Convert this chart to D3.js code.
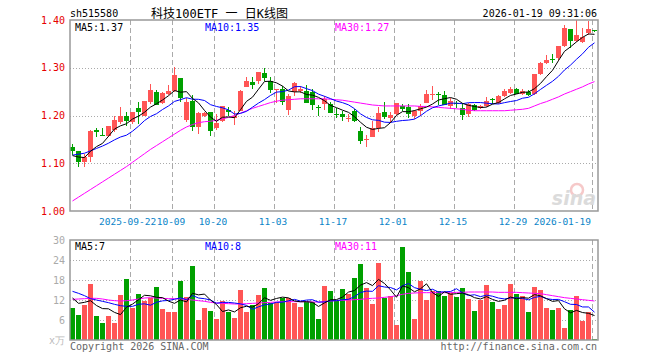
<!DOCTYPE html>
<html>
<head>
<meta charset="utf-8">
<script src="https://cdn.jsdelivr.net/npm/d3@7"></script>
<style>
body{margin:0;background:#fff;}
text{font-family:"DejaVu Sans Mono",monospace;font-size:10px;}
</style>
</head>
<body>
<svg id="kline" width="660" height="360"></svg>
<script>
// daily bars, 2025-09-08 .. 2026-01-19
var opens = [1.133,1.125,1.103,1.113,1.170,1.160,1.158,1.170,1.186,1.200,
    1.186,1.215,1.200,1.229,1.250,1.227,1.245,1.252,1.279,1.190,
    1.231,1.176,1.200,1.208,1.173,1.189,1.212,1.195,1.210,1.260,
    1.270,1.272,1.288,1.272,1.254,1.255,1.212,1.249,1.251,1.251,
    1.249,1.218,1.224,1.224,1.204,1.203,1.193,1.210,1.168,1.150,
    1.154,1.173,1.208,1.194,1.203,1.220,1.217,1.200,1.210,1.226,
    1.244,1.246,1.242,1.219,1.227,1.216,1.204,1.223,1.216,1.219,
    1.234,1.226,1.241,1.248,1.255,1.246,1.250,1.244,1.286,1.310,
    1.318,1.321,1.345,1.382,1.356,1.354,1.372,1.380];
var highs = [1.140,1.125,1.120,1.170,1.174,1.174,1.177,1.198,1.217,1.207,
    1.208,1.228,1.231,1.265,1.254,1.249,1.263,1.301,1.279,1.237,
    1.242,1.207,1.208,1.208,1.203,1.219,1.217,1.210,1.254,1.281,
    1.281,1.291,1.300,1.281,1.255,1.262,1.244,1.270,1.262,1.263,
    1.255,1.222,1.240,1.229,1.215,1.210,1.203,1.213,1.175,1.159,
    1.189,1.217,1.229,1.208,1.227,1.224,1.224,1.212,1.224,1.254,
    1.261,1.249,1.251,1.237,1.231,1.226,1.226,1.225,1.222,1.238,
    1.236,1.243,1.255,1.260,1.258,1.255,1.253,1.286,1.313,1.326,
    1.328,1.345,1.390,1.382,1.400,1.383,1.397,1.380];
var lows = [1.117,1.092,1.092,1.103,1.155,1.159,1.155,1.165,1.183,1.177,
    1.183,1.183,1.198,1.224,1.221,1.224,1.242,1.249,1.228,1.186,
    1.167,1.162,1.196,1.158,1.170,1.187,1.199,1.180,1.210,1.260,
    1.255,1.265,1.272,1.248,1.227,1.222,1.201,1.240,1.248,1.226,
    1.212,1.198,1.212,1.205,1.194,1.189,1.187,1.187,1.140,1.133,
    1.154,1.165,1.192,1.185,1.201,1.210,1.195,1.193,1.199,1.226,
    1.233,1.223,1.223,1.213,1.216,1.190,1.197,1.209,1.213,1.217,
    1.224,1.224,1.239,1.245,1.245,1.243,1.241,1.243,1.285,1.307,
    1.310,1.314,1.343,1.342,1.354,1.352,1.369,1.375];
var closes = [1.125,1.103,1.113,1.167,1.166,1.159,1.177,1.190,1.200,1.188,
    1.208,1.207,1.231,1.254,1.223,1.247,1.252,1.285,1.237,1.229,
    1.176,1.205,1.206,1.167,1.185,1.219,1.208,1.198,1.251,1.272,
    1.263,1.291,1.279,1.254,1.255,1.229,1.240,1.269,1.255,1.227,
    1.222,1.217,1.234,1.206,1.203,1.196,1.194,1.189,1.147,1.151,
    1.173,1.205,1.196,1.201,1.226,1.213,1.203,1.209,1.219,1.244,
    1.245,1.245,1.223,1.231,1.226,1.202,1.224,1.212,1.219,1.231,
    1.233,1.240,1.251,1.255,1.246,1.251,1.243,1.286,1.310,1.317,
    1.317,1.345,1.383,1.357,1.369,1.364,1.381,1.379];
// volume, 万
var volumes = [9.7,7.5,10.5,16.8,7.2,5.1,7.2,5.1,13.5,18.3,
    9.7,13.8,11.8,12.7,16,9.3,8.5,8.5,17.8,13,
    22.3,6.1,9.7,8.8,6.3,11.8,8.5,6.7,15.1,8.5,
    10.5,13.6,15.7,11.2,11.3,12.5,12.5,11,10,11.5,
    11.5,6.3,16.3,14.7,11.8,15.3,13.8,18.6,22.8,15.6,
    10.8,23.1,12.5,13.2,4.5,27.9,20.4,6.3,17.7,12,
    14.7,14.7,13.2,14,12.9,15.6,12.3,8.7,12,16.5,
    11.4,9.3,10.5,16.8,13.8,13.2,8.4,15.9,15,9.6,
    9,9.6,3.6,9,13.2,5.8,8.4,0.3];

// moving averages that reach back before the first bar
var priceMa5Head = [1.116,1.113,1.112,1.125];
var priceMa10Head = [1.117,1.119,1.121,1.126,1.131,1.136,1.142,1.149,1.155];
var priceMa30 = [1.021,1.029,1.037,1.045,1.053,1.061,1.069,1.077,1.085,1.093,
    1.102,1.111,1.120,1.129,1.137,1.145,1.153,1.161,1.169,1.176,
    1.181,1.185,1.187,1.188,1.190,1.193,1.196,1.200,1.205,1.210,
    1.215,1.219,1.223,1.227,1.230,1.232,1.233,1.234,1.235,1.235,
    1.235,1.235,1.235,1.234,1.233,1.232,1.230,1.228,1.226,1.224,
    1.222,1.221,1.220,1.220,1.220,1.220,1.220,1.220,1.219,1.219,
    1.218,1.217,1.216,1.215,1.214,1.213,1.211,1.210,1.210,1.210,
    1.210,1.210,1.210,1.211,1.212,1.213,1.215,1.220,1.225,1.229,
    1.234,1.239,1.245,1.250,1.255,1.260,1.266,1.271];
var volMa5Head = [12.6,11.0,11.3,11.8];
var volMa10Head = [14.6,14.0,13.3,12.4,12.0,11.6,11.2,10.7,10.3];
var volMa30 = [12.2,12.3,12.4,12.5,12.5,12.3,12.0,11.8,11.7,11.8,
    12.0,12.3,12.6,12.7,12.6,12.5,12.4,12.4,12.3,12.2,
    12.0,11.8,11.6,11.3,11.1,11.0,10.9,10.8,10.8,10.9,
    11.0,11.1,11.2,11.3,11.4,11.5,11.5,11.5,11.5,11.5,
    11.4,11.4,11.5,11.7,11.8,11.9,12.0,12.1,12.2,12.4,
    12.5,12.6,12.8,13.0,13.3,13.7,14.0,14.1,14.2,14.2,
    14.2,14.2,14.2,14.2,14.3,14.3,14.4,14.4,14.4,14.4,
    14.4,14.3,14.3,14.3,14.3,14.2,14.1,14.0,13.9,13.6,
    13.3,13.0,12.7,12.5,12.3,12.1,11.9,11.7];

var firstDay = "2025-09-08", lastDay = "2026-01-19";
var holidays = ["2025-10-01","2025-10-02","2025-10-03","2025-10-06","2025-10-07","2025-10-08","2026-01-01","2026-01-02"];
var dateTicks = ["2025-09-22","2025-10-09","2025-10-20","2025-11-03","2025-11-17","2025-12-01","2025-12-15","2025-12-29","2026-01-19"];
var priceTicks = [1.00,1.10,1.20,1.30,1.40];
var volTicks = [6,12,18,24,30];

var fmt = d3.timeFormat("%Y-%m-%d"), parse = d3.timeParse("%Y-%m-%d");
var dates = d3.timeDay.range(parse(firstDay), d3.timeDay.offset(parse(lastDay), 1))
    .filter(function(d){ return d.getDay() > 0 && d.getDay() < 6 && holidays.indexOf(fmt(d)) < 0; })
    .map(fmt);

function movingAvg(vals, n, head) {
    return vals.map(function(v, i){
        if (i < n - 1) return head[i];
        return d3.mean(vals.slice(i - n + 1, i + 1));
    });
}

var pMa5 = movingAvg(closes, 5, priceMa5Head),
    pMa10 = movingAvg(closes, 10, priceMa10Head),
    vMa5 = movingAvg(volumes, 5, volMa5Head),
    vMa10 = movingAvg(volumes, 10, volMa10Head);

var rows = dates.map(function(d, i){
    return {date: d, o: opens[i], h: highs[i], l: lows[i], c: closes[i], v: volumes[i]};
});

var red = "#ff5555", green = "#00a000";
function col(d){ return d.c >= d.o ? red : green; }

var svg = d3.select("#kline");
var left = 70, right = 598;
var main = {top: 20, bottom: 211}, vol = {top: 240, bottom: 340};

var x = d3.scaleBand().domain(dates).range([left, right]);
var y = d3.scaleLinear().domain([1.0, 1.4]).range([main.bottom, main.top]);
var yv = d3.scaleLinear().domain([0, 30]).range([vol.bottom, vol.top]);
var mid = function(d){ return x(d) + 2.5; };

// grid
var grid = svg.append("g").attr("stroke", "#aaa").attr("shape-rendering", "crispEdges");
[main, vol].forEach(function(p){
    grid.append("g").selectAll("line")
        .data(dateTicks)
        .enter().append("line")
        .attr("x1", function(d){ return x(d) + 0.5; })
        .attr("x2", function(d){ return x(d) + 0.5; })
        .attr("y1", p.top).attr("y2", p.bottom)
        .attr("stroke-dasharray", "5,3");
});
grid.append("g").selectAll("line")
    .data(priceTicks.slice(1, -1))
    .enter().append("line")
    .attr("x1", left).attr("x2", right)
    .attr("y1", function(d){ return Math.round(y(d)) + 0.5; })
    .attr("y2", function(d){ return Math.round(y(d)) + 0.5; })
    .attr("stroke-dasharray", "1,2");
grid.append("g").selectAll("line")
    .data(volTicks.slice(0, -1))
    .enter().append("line")
    .attr("x1", left).attr("x2", right)
    .attr("y1", function(d){ return Math.round(yv(d)) + 0.5; })
    .attr("y2", function(d){ return Math.round(yv(d)) + 0.5; })
    .attr("stroke-dasharray", "1,2");

// watermark
var wm = svg.append("g").attr("opacity", 0.9);
wm.append("circle").attr("cx", 577).attr("cy", 190).attr("r", 6)
    .attr("fill", "none").attr("stroke", "#f6c4c4").attr("stroke-width", 2.5);
wm.append("text").attr("x", 596).attr("y", 205).attr("text-anchor", "end")
    .style("font-family", "DejaVu Sans").style("font-size", "19px")
    .style("font-weight", "bold").style("font-style", "italic")
    .attr("fill", "#d8d8d8").text("sina");

// candles
var cg = svg.append("g").attr("shape-rendering", "crispEdges");
cg.selectAll("line.wick")
    .data(rows)
    .enter().append("line")
    .attr("class", "wick")
    .attr("x1", function(d){ return mid(d.date); })
    .attr("x2", function(d){ return mid(d.date); })
    .attr("y1", function(d){ return y(d.h); })
    .attr("y2", function(d){ return y(d.l); })
    .attr("stroke", col);
cg.selectAll("rect")
    .data(rows)
    .enter().append("rect")
    .attr("x", function(d){ return x(d.date); })
    .attr("width", x.bandwidth() - 1)
    .attr("y", function(d){ return y(Math.max(d.o, d.c)); })
    .attr("height", function(d){ return Math.max(1, Math.abs(y(d.o) - y(d.c))); })
    .attr("fill", col);

// volume bars
svg.append("g").attr("shape-rendering", "crispEdges")
    .selectAll("rect")
    .data(rows)
    .enter().append("rect")
    .attr("x", function(d){ return x(d.date); })
    .attr("width", x.bandwidth() - 1)
    .attr("y", function(d){ return yv(d.v); })
    .attr("height", function(d){ return yv(0) - yv(d.v); })
    .attr("fill", col);

// MA lines
function drawLine(vals, scale, color) {
    var line = d3.line()
        .x(function(d, i){ return mid(dates[i]); })
        .y(function(d){ return scale(d); });
    svg.append("path")
        .attr("d", line(vals))
        .attr("fill", "none")
        .attr("stroke", color)
        .attr("stroke-width", 1);
}
drawLine(priceMa30, y, "#ff00ff");
drawLine(pMa10, y, "#0000ff");
drawLine(pMa5, y, "#000");
drawLine(volMa30, yv, "#ff00ff");
drawLine(vMa10, yv, "#0000ff");
drawLine(vMa5, yv, "#000");

// frames
[main, vol].forEach(function(p){
    svg.append("rect")
        .attr("x", left).attr("y", p.top)
        .attr("width", right - left).attr("height", p.bottom - p.top)
        .attr("fill", "none").attr("stroke", "#999").attr("stroke-width", 1.5);
});

// axes
var ya = svg.append("g")
    .attr("transform", "translate(" + (left - 1) + ",0)")
    .call(d3.axisLeft(y).tickValues(priceTicks).tickFormat(d3.format(".2f")).tickSize(0).tickPadding(4));
ya.select(".domain").remove();
ya.selectAll("text").attr("fill", "#e60000").style("font-size", "10px").style("font-family", "DejaVu Sans Mono");

var va = svg.append("g")
    .attr("transform", "translate(" + (left - 1) + ",0)")
    .call(d3.axisLeft(yv).tickValues(volTicks).tickFormat(d3.format("d")).tickSize(0).tickPadding(4));
va.select(".domain").remove();
va.selectAll("text").attr("fill", "#aaa").style("font-size", "10px").style("font-family", "DejaVu Sans Mono");

var dl = svg.append("g").selectAll("text")
    .data(dateTicks)
    .enter().append("text")
    .attr("x", function(d){ return x(d) - 1; })
    .attr("y", 225)
    .style("font-size", "9.5px")
    .attr("text-anchor", function(d, i){ return i === dateTicks.length - 1 ? "end" : "middle"; })
    .attr("fill", "#0a84c8")
    .text(function(d, i){ return (i === 0 || i === dateTicks.length - 1) ? d : d.slice(5); });
// first label butts against the second one
var dn = dl.nodes(), b0 = dn[0].getBBox(), b1 = dn[1].getBBox();
if (b0.x + b0.width > b1.x) {
    d3.select(dn[0]).attr("x", x(dateTicks[0]) - 1 - (b0.x + b0.width - b1.x) - 0.5);
}

svg.append("text").attr("x", left - 5).attr("y", 344).attr("text-anchor", "end")
    .attr("fill", "#bbb").text("x万");

// header
svg.append("text").attr("x", left).attr("y", 17).text("sh515580");
svg.append("text").attr("x", 151).attr("y", 18)
    .style("font-size", "12px").style("font-family", "DejaVu Sans Mono, Noto Sans CJK SC")
    .text("科技100ETF 一 日K线图");
svg.append("text").attr("x", right - 1).attr("y", 17).attr("text-anchor", "end")
    .text("2026-01-19 09:31:06");

// legends
var last = rows.length - 1;
var f2 = d3.format(".2f");
var legends = [
    {x: 75, y: 31, color: "#000", t: "MA5:" + f2(pMa5[last])},
    {x: 205, y: 31, color: "#0000ff", t: "MA10:" + f2(pMa10[last])},
    {x: 335, y: 31, color: "#ff00ff", t: "MA30:" + f2(priceMa30[last])},
    {x: 75, y: 250, color: "#000", t: "MA5:" + Math.floor(vMa5[last])},
    {x: 205, y: 250, color: "#0000ff", t: "MA10:" + Math.floor(vMa10[last])},
    {x: 335, y: 250, color: "#ff00ff", t: "MA30:" + Math.floor(volMa30[last])}
];
svg.append("g").selectAll("text")
    .data(legends)
    .enter().append("text")
    .attr("x", function(d){ return d.x; })
    .attr("y", function(d){ return d.y; })
    .attr("fill", function(d){ return d.color; })
    .text(function(d){ return d.t; });

// footer
svg.append("text").attr("x", left).attr("y", 350).attr("fill", "#666").text("Copyright 2026 SINA.COM");
svg.append("text").attr("x", right - 1).attr("y", 350).attr("text-anchor", "end").attr("fill", "#666").text("http://finance.sina.com.cn");
</script>
</body>
</html>
